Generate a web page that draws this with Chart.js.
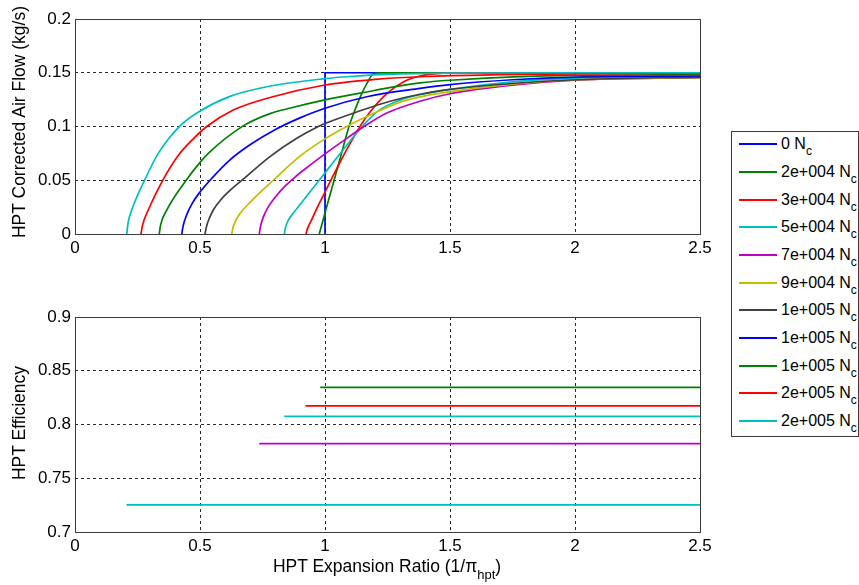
<!DOCTYPE html>
<html>
<head>
<meta charset="utf-8">
<title>HPT map</title>
<script src="https://cdn.jsdelivr.net/npm/chart.js@4.4.1/dist/chart.umd.min.js"></script>
<style>
  body { margin: 0; width: 859px; height: 585px; background: #fff; position: relative; overflow: hidden;
         font-family: "Liberation Sans", Arial, sans-serif; color: #000; }
  .panel { position: absolute; left: 0; }
  #flowBox { top: 0; }
  #effBox { top: 290px; }
  .ytitle { position: absolute; font-size: 17.5px; line-height: 18px; white-space: nowrap;
            transform: translate(-50%, -50%) rotate(-90deg); }
  #xtitle { position: absolute; left: 387px; top: 557px; font-size: 17.5px; line-height: 18px;
            white-space: nowrap; transform: translateX(-50%); }
  #xtitle .sub { font-size: 13px; vertical-align: -7px; line-height: 0; }
  #legend { position: absolute; left: 731px; top: 131px; width: 128px; height: 306px;
            box-sizing: border-box; border: 1px solid #3c3c3c; background: #fff; }
  .entry { position: absolute; left: 0; width: 126px; height: 20px; font-size: 16px; line-height: 20px; white-space: nowrap; }
  .entry .swatch { position: absolute; left: 7px; top: 9px; width: 38px; height: 2px; }
  .entry .name { position: absolute; left: 49px; top: 0; }
  .entry sub { font-size: 12px; vertical-align: -6px; line-height: 0; }
</style>
</head>
<body>
<div id="flowBox" class="panel"><canvas id="flowChart" width="720" height="262"></canvas></div>
<div id="effBox" class="panel"><canvas id="effChart" width="720" height="270"></canvas></div>
<div class="ytitle" style="left:19px; top:122px;">HPT Corrected Air Flow (kg/s)</div>
<div class="ytitle" style="left:19px; top:423px;">HPT Efficiency</div>
<div id="xtitle">HPT Expansion Ratio (1/π<span class="sub">hpt</span>)</div>
<div id="legend"></div>

<script>
// ─── Axis ticks ─────────────────────────────────────────────────────────────
const xTicks = [0, 0.5, 1, 1.5, 2, 2.5];
const xTickLabels = ['0', '0.5', '1', '1.5', '2', '2.5'];
const flowTicks = [0, 0.05, 0.1, 0.15, 0.2];
const flowTickLabels = ['0', '0.05', '0.1', '0.15', '0.2'];
const effTicks = [0.7, 0.75, 0.8, 0.85, 0.9];
const effTickLabels = ['0.7', '0.75', '0.8', '0.85', '0.9'];

// ─── Speed lines ────────────────────────────────────────────────────────────
const speedLabels = ['0', '2e+004', '3e+004', '5e+004', '7e+004', '9e+004',
                     '1e+005', '1e+005', '1e+005', '2e+005', '2e+005'];
const lineColors = ['#0000ff', '#008000', '#ff0000', '#00bfbf', '#bf00bf', '#bfbf00',
                    '#404040', '#0000ff', '#008000', '#ff0000', '#00bfbf'];

// corrected air flow (kg/s) against expansion ratio, [ratio, flow]
const flowN0 = [[1, 0], [1, 0.15], [2.5, 0.15]];
const flowN2e4 = [[0.977, 0], [0.99, 0.011], [1.01, 0.028], [1.03, 0.0447], [1.06, 0.0698],
  [1.096, 0.1], [1.12, 0.1155], [1.147, 0.1305], [1.17, 0.141], [1.196, 0.1495], [1.23, 0.15], [2.5, 0.15]];
const flowN3e4 = [[0.924, 0], [0.93, 0.005], [0.945, 0.0125], [0.967, 0.0235], [1.0, 0.039],
  [1.031, 0.0535], [1.063, 0.068], [1.1, 0.084], [1.147, 0.1025], [1.18, 0.1135], [1.247, 0.1305],
  [1.313, 0.1415], [1.38, 0.147], [1.45, 0.1492], [1.55, 0.15], [2.5, 0.15]];
const flowN5e4 = [[0.837, 0], [0.843, 0.007], [0.855, 0.0135], [0.87, 0.0185], [0.887, 0.0235],
  [0.983, 0.0518], [1.04, 0.0688], [1.1, 0.0863], [1.147, 0.0995], [1.213, 0.1145], [1.3, 0.1245],
  [1.38, 0.1295], [1.5, 0.1345], [1.75, 0.1415], [2.0, 0.145], [2.5, 0.1465]];
const flowN7e4 = [[0.737, 0], [0.742, 0.007], [0.752, 0.015], [0.77, 0.024], [0.8, 0.034],
  [0.84, 0.0445], [0.88, 0.053], [0.94, 0.064], [1.0, 0.0745], [1.06, 0.0845], [1.153, 0.0995],
  [1.247, 0.1125], [1.38, 0.1235], [1.5, 0.1305], [1.75, 0.1385], [2.0, 0.143], [2.5, 0.1455]];
const flowN9e4 = [[0.627, 0], [0.632, 0.006], [0.642, 0.012], [0.66, 0.019], [0.7, 0.0295],
  [0.793, 0.05], [0.9, 0.0725], [1.0, 0.0885], [1.087, 0.1], [1.193, 0.112], [1.287, 0.1215],
  [1.38, 0.1275], [1.5, 0.1325], [1.75, 0.1395], [2.0, 0.1435], [2.5, 0.1455]];
const flowN1e5a = [[0.52, 0], [0.526, 0.007], [0.538, 0.015], [0.555, 0.023], [0.58, 0.031],
  [0.62, 0.0405], [0.673, 0.051], [0.78, 0.072], [0.887, 0.089], [0.973, 0.1], [1.0, 0.1028],
  [1.127, 0.1135], [1.26, 0.1235], [1.38, 0.13], [1.5, 0.1345], [1.75, 0.14], [2.0, 0.1435], [2.5, 0.146]];
const flowN1e5b = [[0.427, 0], [0.433, 0.008], [0.447, 0.018], [0.47, 0.029], [0.5, 0.039],
  [0.54, 0.05], [0.62, 0.069], [0.7, 0.083], [0.8, 0.097], [0.9, 0.108], [1.0, 0.117],
  [1.167, 0.1277], [1.38, 0.1355], [1.5, 0.139], [1.75, 0.1435], [2.0, 0.146], [2.5, 0.147]];
const flowN1e5c = [[0.337, 0], [0.342, 0.008], [0.367, 0.0223], [0.447, 0.0508], [0.497, 0.0657],
  [0.533, 0.075], [0.673, 0.1006], [0.78, 0.112], [0.85, 0.1165], [1.0, 0.1247], [1.14, 0.131],
  [1.38, 0.1405], [1.5, 0.143], [2.0, 0.1475], [2.5, 0.148]];
const flowN2e5a = [[0.264, 0], [0.27, 0.008], [0.293, 0.0223], [0.353, 0.0508], [0.413, 0.073],
  [0.473, 0.0885], [0.527, 0.1], [0.633, 0.1153], [0.78, 0.127], [1.0, 0.1386], [1.2, 0.1438],
  [1.4, 0.1465], [1.7, 0.1482], [2.0, 0.149], [2.5, 0.1495]];
const flowN2e5b = [[0.207, 0], [0.212, 0.01], [0.227, 0.0223], [0.28, 0.0508], [0.333, 0.075],
  [0.42, 0.1006], [0.497, 0.114], [0.62, 0.128], [0.767, 0.137], [1.0, 0.1445], [1.1, 0.1465],
  [1.25, 0.1485], [1.5, 0.1497], [2.0, 0.15], [2.5, 0.15]];

const flowCurves = [flowN0, flowN2e4, flowN3e4, flowN5e4, flowN7e4, flowN9e4,
                    flowN1e5a, flowN1e5b, flowN1e5c, flowN2e5a, flowN2e5b];

// efficiency: flat from the curve's first ratio out to the end of the axis (null = none)
const effStart = [null, 0.981, 0.922, 0.837, 0.737, null, null, null, null, null, 0.206];
const effLevel = [null, 0.8345, 0.8174, 0.8075, 0.7823, null, null, null, null, null, 0.7253];
const effEnd = 2.5;

// ─── Shared styling ─────────────────────────────────────────────────────────
const FONT = '"Liberation Sans", Arial, sans-serif';
const GRID = '#2a2a2a';

// box round the plot area, like the other three sides of the axes
const axesFrame = {
  id: 'axesFrame',
  afterDatasetsDraw(chart) {
    const { ctx, chartArea: a } = chart;
    const l = Math.round(a.left) + 0.5, t = Math.round(a.top) + 0.5;
    const r = Math.round(a.right) + 0.5, b = Math.round(a.bottom) + 0.5;
    ctx.save();
    ctx.setLineDash([]);
    ctx.strokeStyle = '#3c3c3c';
    ctx.lineWidth = 1;
    ctx.strokeRect(l, t, r - l, b - t);
    ctx.restore();
  },
};

function xAxis() {
  return {
    type: 'linear', min: xTicks[0], max: xTicks[xTicks.length - 1],
    afterBuildTicks: s => { s.ticks = xTicks.map(v => ({ value: v })); },
    afterFit: s => { s.height = 28; },
    grid: { color: GRID, lineWidth: 1, drawTicks: false },
    border: { display: false, dash: [3, 3] },
    ticks: {
      color: '#000', padding: 4, maxRotation: 0, autoSkip: false,
      font: { family: FONT, size: 17 },
      callback: (v, i) => xTickLabels[i],
    },
  };
}

function yAxis(ticks, labels) {
  return {
    type: 'linear', min: ticks[0], max: ticks[ticks.length - 1],
    afterBuildTicks: s => { s.ticks = ticks.map(v => ({ value: v })); },
    afterFit: s => { s.width = 75; },
    grid: { color: GRID, lineWidth: 1, drawTicks: false },
    border: { display: false, dash: [3, 3] },
    ticks: {
      color: '#000', padding: 4, autoSkip: false,
      font: { family: FONT, size: 17 },
      callback: (v, i) => labels[i],
    },
  };
}

function lineSet(pts, i, label) {
  const vertical = pts.some((p, k) => k > 0 && p[0] === pts[k - 1][0]);
  return {
    label,
    data: pts.map(([x, y]) => ({ x, y })),
    borderColor: lineColors[i],
    backgroundColor: lineColors[i],
    borderWidth: 1.7,
    pointRadius: 0,
    showLine: true,
    fill: false,
    tension: 0,
    cubicInterpolationMode: vertical ? 'default' : 'monotone',
    order: speedLabels.length - i,   // later speeds drawn on top
  };
}

function makeChart(id, datasets, yScale, padTop) {
  return new Chart(document.getElementById(id), {
    type: 'scatter',
    data: { datasets },
    options: {
      responsive: false,
      animation: false,
      events: [],
      layout: { padding: { top: padTop, right: 20, bottom: 0, left: 0 } },
      plugins: { legend: { display: false }, tooltip: { enabled: false } },
      scales: { x: xAxis(), y: yScale },
    },
    plugins: [axesFrame],
  });
}

// ─── Charts ─────────────────────────────────────────────────────────────────
const flowSets = flowCurves.map((pts, i) => lineSet(pts, i, speedLabels[i] + ' Nc'));

const effSets = effStart
  .map((x0, i) => (x0 === null ? null : lineSet([[x0, effLevel[i]], [effEnd, effLevel[i]]], i, speedLabels[i] + ' Nc')))
  .filter(Boolean);

makeChart('flowChart', flowSets, yAxis(flowTicks, flowTickLabels), 19);
makeChart('effChart', effSets, yAxis(effTicks, effTickLabels), 27);

// ─── Legend ─────────────────────────────────────────────────────────────────
const legendBox = document.getElementById('legend');
speedLabels.forEach((s, i) => {
  const row = document.createElement('div');
  row.className = 'entry';
  row.style.top = (2.3 + i * 27.67) + 'px';
  row.innerHTML = `<span class="swatch" style="background:${lineColors[i]}"></span>` +
                  `<span class="name">${s} N<sub>c</sub></span>`;
  legendBox.appendChild(row);
});
</script>
</body>
</html>
